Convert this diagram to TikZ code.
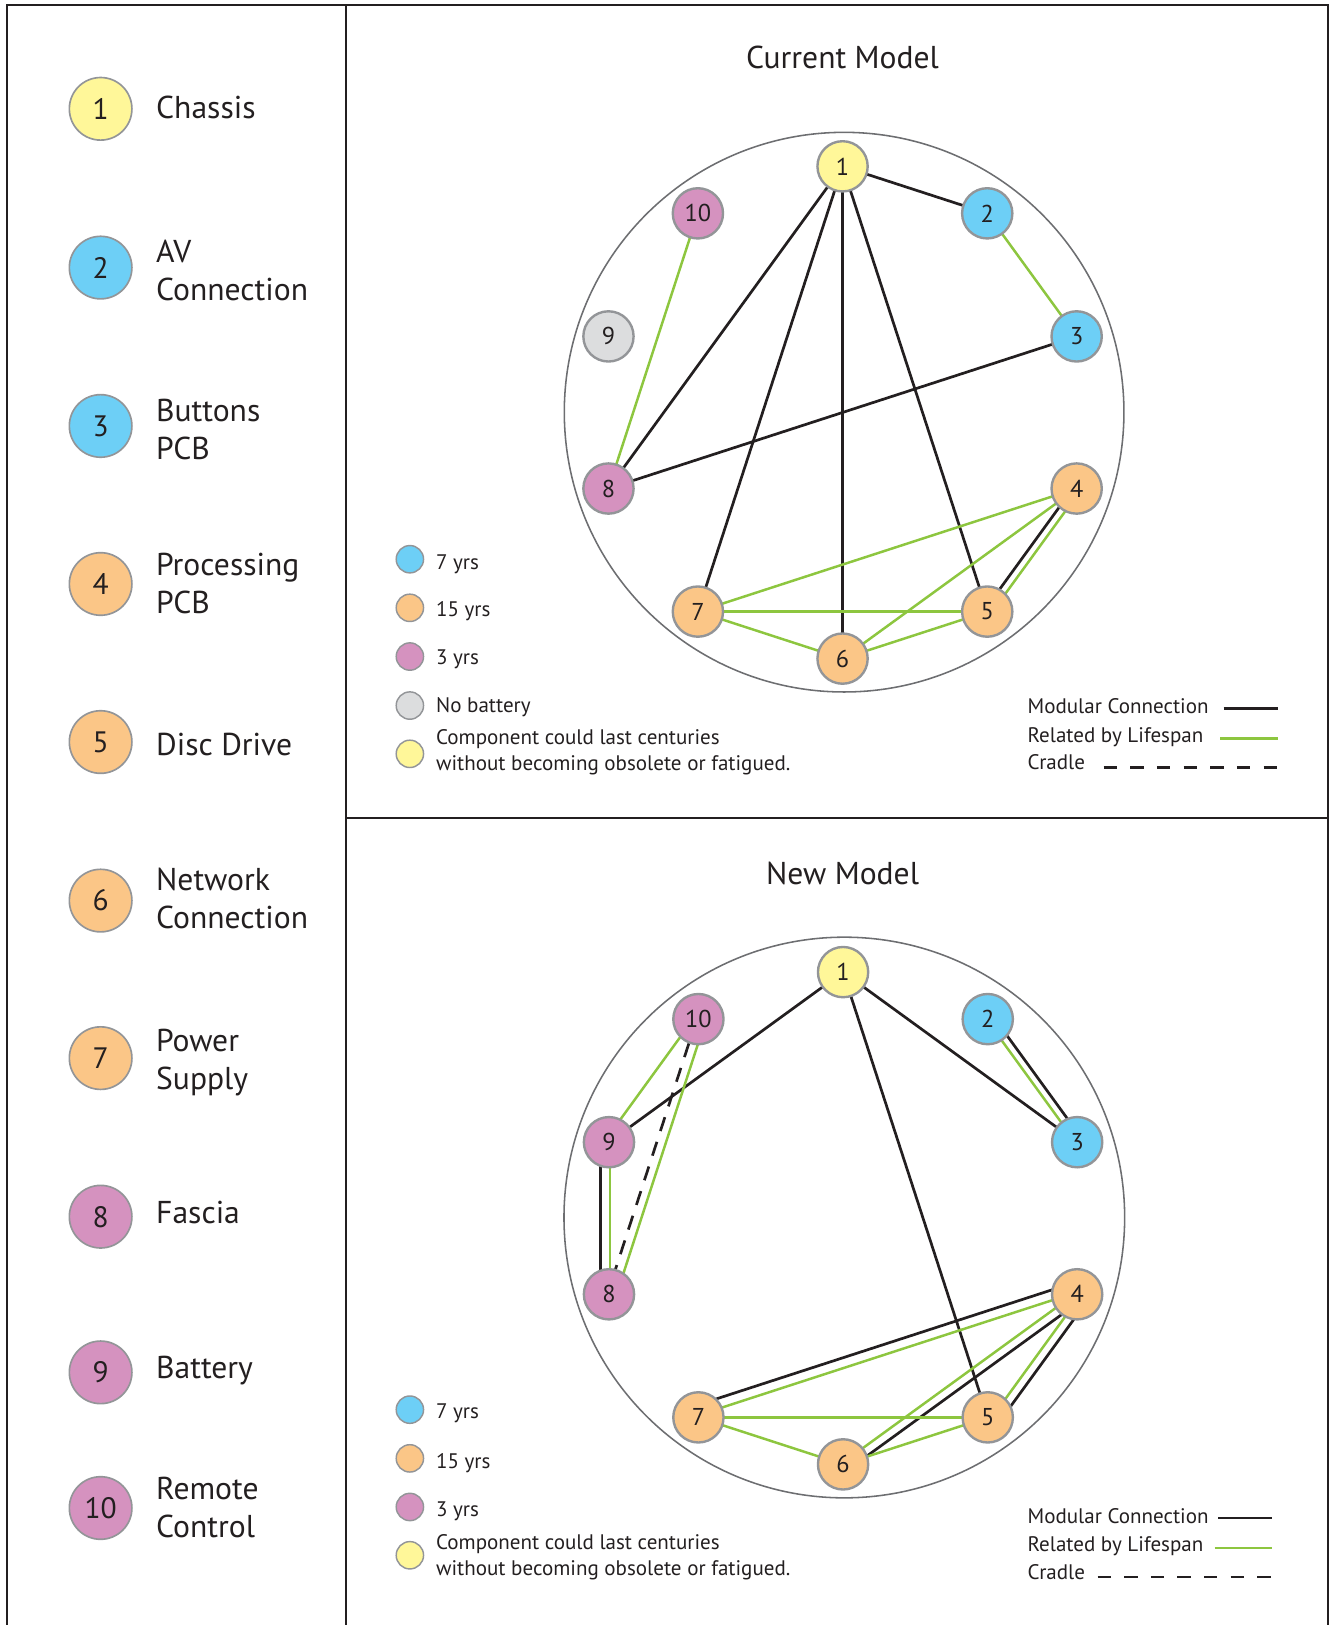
\documentclass[tikz,border=0pt]{standalone}
\usepackage{fontspec}
\setmainfont{PT Sans}
\usetikzlibrary{calc,backgrounds}
\definecolor{cyel}{HTML}{FFF799}
\definecolor{cblu}{HTML}{6DCFF6}
\definecolor{corg}{HTML}{FBC687}
\definecolor{cpnk}{HTML}{D592BF}
\definecolor{cgry}{HTML}{DCDDDE}
\definecolor{cbrd}{HTML}{939598}
\definecolor{cgrn}{HTML}{8DC63F}
\definecolor{cblk}{HTML}{231F20}
\definecolor{cring}{HTML}{6D6E71}
\newcommand{\conn}[4]{\draw[#1] ($(#2)!#4pt!90:(#3)$) -- ($(#3)!#4pt!-90:(#2)$);}
\begin{document}
\begin{tikzpicture}[x=1pt, y=-1pt,
  dnode/.style={circle, draw=cbrd, line width=2.3pt, minimum size=48.5pt, inner sep=0pt, text=cblk, font=\fontsize{23.5}{23.5}\selectfont},
  lnode/.style={circle, draw=cbrd, line width=1.6pt, minimum size=60.4pt, inner sep=0pt, text=cblk, font=\fontsize{28.5}{28.5}\selectfont},
  snode/.style={circle, draw=cbrd, line width=1.4pt, minimum size=26.4pt, inner sep=0pt},
  ltext/.style={anchor=base west, inner sep=0pt, text=cblk, align=left, font=\fontsize{30.5}{36.5}\selectfont},
  stext/.style={anchor=base west, inner sep=0pt, text=cblk, align=left, font=\fontsize{20.3}{24.5}\selectfont},
  ttl/.style={anchor=base, inner sep=0pt, text=cblk, font=\fontsize{30.5}{30.5}\selectfont},
  blk/.style={draw=cblk, line width=2.6pt},
  grn/.style={draw=cgrn, line width=2.4pt},
  cradle/.style={draw=cblk, line width=2.6pt, dash pattern=on 14pt off 11pt},
  lgblk/.style={draw=cblk, line width=2.7pt},
  lggrn/.style={draw=cgrn, line width=2.7pt},
  lgdash/.style={draw=cblk, line width=2.7pt, dash pattern=on 12.9pt off 12.8pt},
  ring/.style={draw=cring, line width=1.5pt},
  frame/.style={draw=cblk, line width=1.9pt}]
\useasboundingbox (0,0) rectangle (1285,1568);

% frame
\draw[frame] (6.4,1570) -- (6.4,5.2) -- (1281.4,5.2) -- (1281.4,1570);
\draw[frame] (333.5,5.2) -- (333.5,1570);
\draw[frame] (333.5,789.4) -- (1281.4,789.4);

% left legend
\foreach \k/\c/\y in {1/cyel/105, 2/cblu/258.2, 3/cblu/411, 4/corg/563.5, 5/corg/716, 6/corg/869, 7/corg/1021, 8/cpnk/1174, 9/cpnk/1324.2, 10/cpnk/1455.1}
  \node[lnode, fill=\c] (L\k) at (97.1,\y) {\k};
\node[ltext] (Lt1) at (150.5,114) {Chassis};
\node[ltext] (Lt2) at (150.5,289.5) {AV\\Connection};
\node[ltext] (Lt3) at (150.5,443) {Buttons\\PCB};
\node[ltext] (Lt4) at (150.5,592) {Processing\\PCB};
\node[ltext] (Lt5) at (150.5,729) {Disc Drive};
\node[ltext] (Lt6) at (150.5,896) {Network\\Connection};
\node[ltext] (Lt7) at (150.5,1051.5) {Power\\Supply};
\node[ltext] (Lt8) at (150.5,1180.5) {Fascia};
\node[ltext] (Lt9) at (150.5,1330.5) {Battery};
\node[ltext] (Lt10) at (150.5,1483.5) {Remote\\Control};

% titles
\node[ttl] (T1) at (813,66.5) {Current Model};
\node[ttl] (T2) at (813,853.5) {New Model};

% rings
\draw[ring] (814.5,397.7) circle[radius=270];
\draw[ring] (814.7,1174.8) circle[radius=270.5];

% nodes
\coordinate (ct) at (813,398);
\coordinate (cb) at (813.5,1175.5);
\foreach \k/\c in {1/cyel,2/cblu,3/cblu,4/corg,5/corg,6/corg,7/corg,8/cpnk,9/cgry,10/cpnk}
  \node[dnode, fill=\c] (t\k) at ($(ct)+({36*\k-126}:237.5)$) {\k};
\foreach \k/\c in {1/cyel,2/cblu,3/cblu,4/corg,5/corg,6/corg,7/corg,8/cpnk,9/cpnk,10/cpnk}
  \node[dnode, fill=\c] (b\k) at ($(cb)+({36*\k-126}:237.5)$) {\k};

\begin{pgfonlayer}{background}
% current model
\conn{blk}{t1}{t2}{0}
\conn{blk}{t1}{t8}{0}
\conn{blk}{t1}{t7}{0}
\conn{blk}{t1}{t6}{0}
\conn{blk}{t1}{t5}{0}
\conn{blk}{t3}{t8}{0}
\conn{blk}{t4}{t5}{-3}
\conn{grn}{t4}{t5}{4}
\conn{grn}{t10}{t8}{0}
\conn{grn}{t2}{t3}{0}
\conn{grn}{t4}{t7}{0}
\conn{grn}{t4}{t6}{0}
\conn{grn}{t7}{t5}{0}
\conn{grn}{t7}{t6}{0}
\conn{grn}{t6}{t5}{0}
% new model
\conn{blk}{b1}{b9}{0}
\conn{blk}{b1}{b3}{0}
\conn{blk}{b1}{b5}{0}
\conn{blk}{b2}{b3}{5.7}
\conn{grn}{b2}{b3}{-1.2}
\conn{blk}{b9}{b8}{-8.2}
\conn{grn}{b9}{b8}{0.8}
\conn{grn}{b10}{b9}{-4}
\conn{grn}{b10}{b8}{7}
\conn{cradle}{b10}{b8}{-1.5}
\conn{blk}{b4}{b7}{-11.6}
\conn{grn}{b4}{b7}{-2}
\conn{blk}{b4}{b6}{7}
\conn{grn}{b4}{b6}{-1.5}
\conn{blk}{b4}{b5}{11.6}
\conn{grn}{b4}{b5}{3.3}
\conn{grn}{b7}{b5}{0}
\conn{grn}{b7}{b6}{0}
\conn{grn}{b6}{b5}{0}
\end{pgfonlayer}

% small legend top
\node[snode, fill=cblu] (s1) at (395.5,539.6) {};
\node[snode, fill=corg] (s2) at (395.5,586.5) {};
\node[snode, fill=cpnk] (s3) at (395.5,633.5) {};
\node[snode, fill=cgry] (s4) at (395.5,680.8) {};
\node[snode, fill=cyel] (s5) at (395.5,727.4) {};
\node[stext] (st1) at (420.6,549.2) {7 yrs};
\node[stext] (st2) at (420.6,594.9) {15 yrs};
\node[stext] (st3) at (420.6,641.5) {3 yrs};
\node[stext] (st4) at (420.6,687.5) {No battery};
\node[stext] (st5) at (420.6,743) {Component could last centuries\\without becoming obsolete or fatigued.};

% small legend bottom
\node[snode, fill=cblu] (u1) at (395.5,1360.2) {};
\node[snode, fill=corg] (u2) at (395.5,1407.2) {};
\node[snode, fill=cpnk] (u3) at (395.5,1454.1) {};
\node[snode, fill=cyel] (u4) at (395.5,1500.7) {};
\node[stext] (ut1) at (420.6,1369.2) {7 yrs};
\node[stext] (ut2) at (420.6,1416.5) {15 yrs};
\node[stext] (ut3) at (420.6,1463.1) {3 yrs};
\node[stext] (ut4) at (420.6,1520) {Component could last centuries\\without becoming obsolete or fatigued.};

% line legend top
\node[stext] (m1) at (991.4,688) {Modular Connection};
\node[stext] (m2) at (991.4,716) {Related by Lifespan};
\node[stext] (m3) at (991.4,742.8) {Cradle};
\draw[lgblk] (1180.8,683.3) -- (1233.5,683.3);
\draw[lggrn] (1177.6,712.3) -- (1233.5,712.3);
\draw[lgdash] (1065,740.2) -- (1232.5,740.2);

% line legend bottom
\node[stext] (n1) at (991.4,1469.6) {Modular Connection};
\node[stext] (n2) at (991.4,1497.5) {Related by Lifespan};
\node[stext] (n3) at (991.4,1524.2) {Cradle};
\draw[lgblk] (1175.3,1464.7) -- (1227.7,1464.7);
\draw[lggrn] (1172,1493.7) -- (1227.7,1493.7);
\draw[lgdash] (1059,1521.6) -- (1227.5,1521.6);
\end{tikzpicture}
\end{document}
